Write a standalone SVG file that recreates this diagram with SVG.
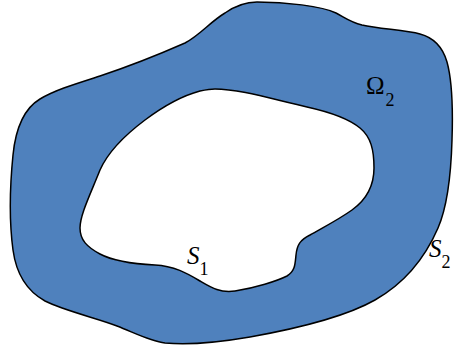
<svg xmlns="http://www.w3.org/2000/svg" width="454" height="353" viewBox="0 0 454 353">
<style>
.region{fill:#4F81BD;stroke:#000;stroke-width:1.5;fill-rule:evenodd;stroke-linejoin:round}
.lbl{font-family:"Liberation Serif","Times New Roman",serif;font-size:25px;fill:#000}
.sub{font-size:18px;font-style:normal}
.it{font-style:italic}
</style>
<rect width="454" height="353" fill="#fff"/>
<g id="omega2">
<path class="region" d="M 257,2 C 285,2 322,6 336,13 C 344,17 350,22 362,25 C 380,29 405,30 420,34 C 435,38 443,48 447,62 C 452,80 453,110 452,140 C 451,175 448,205 438,228 C 425,258 405,283 375,300 C 345,317 300,328 250,337 C 215,343 185,345 165,343 C 150,341 135,333 117,326 C 100,319 65,311 45,301 C 25,290 16,272 13,250 C 9,220 10,185 13,155 C 16,125 25,108 40,99 C 55,90 75,84 100,76 C 130,66 160,54 185,43 C 200,35 210,22 225,13 C 235,6 245,2 257,2 Z M 215,89 C 240,89 275,100 307,107 C 325,111 348,118 360,128 C 371,137 374,150 374,168 C 374,185 366,200 352,210 C 338,220 322,228 310,235 C 300,240 297,245 296,255 C 295,265 295,271 287,276 C 277,281 255,288 235,291 C 220,293 212,288 200,281 C 188,274 175,266 155,265 C 135,264 115,262 100,254 C 87,247 80,240 80,228 C 80,215 90,195 100,170 C 108,152 125,135 145,120 C 165,105 185,95 200,91 C 205,90 210,89 215,89 Z"/>
</g>
<g id="labels" font-family="Liberation Serif, Times New Roman, serif">
<text class="lbl" x="366" y="94">Ω<tspan class="sub" dx="1" dy="12">2</tspan></text>
<text class="lbl it" x="187" y="264">S<tspan class="sub" dx="0" dy="11">1</tspan></text>
<text class="lbl it" x="429" y="257">S<tspan class="sub" dx="0" dy="11">2</tspan></text>
</g>
</svg>
